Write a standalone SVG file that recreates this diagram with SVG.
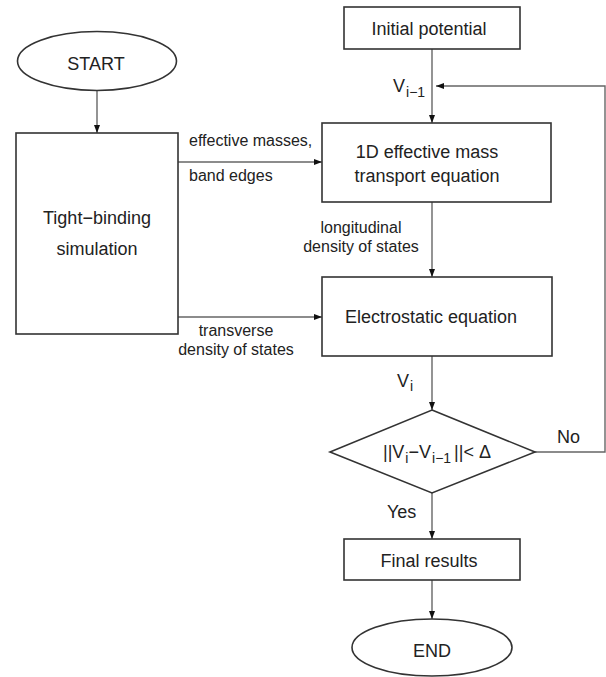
<svg xmlns="http://www.w3.org/2000/svg" width="606" height="677" viewBox="0 0 606 677">
<style>
.box{fill:#fff;stroke:#333;stroke-width:1.6}
.ln{fill:none;stroke:#666;stroke-width:1.4}
.t{font-family:"Liberation Sans",Arial,sans-serif;fill:#222;font-size:18px}
.s{font-family:"Liberation Sans",Arial,sans-serif;fill:#222;font-size:16px}
.m{text-anchor:middle}
</style>
<defs>
<marker id="ah" markerWidth="8" markerHeight="6" refX="8" refY="3" orient="auto" markerUnits="userSpaceOnUse">
<path d="M0,0 L8,3 L0,6 Z" fill="#111"/>
</marker>
</defs>
<rect width="606" height="677" fill="#fff"/>
<g id="connectors">
<line class="ln" x1="97" y1="90" x2="97" y2="133" marker-end="url(#ah)"/>
<line class="ln" x1="432" y1="49" x2="432" y2="123" marker-end="url(#ah)"/>
<line class="ln" x1="178" y1="162" x2="322" y2="162" marker-end="url(#ah)"/>
<line class="ln" x1="432" y1="202" x2="432" y2="277" marker-end="url(#ah)"/>
<line class="ln" x1="178" y1="317" x2="322" y2="317" marker-end="url(#ah)"/>
<line class="ln" x1="432" y1="356" x2="432" y2="410" marker-end="url(#ah)"/>
<polyline class="ln" points="535,452 605,452 605,86 436,86" marker-end="url(#ah)"/>
<line class="ln" x1="432" y1="493" x2="432" y2="539" marker-end="url(#ah)"/>
<line class="ln" x1="432" y1="580" x2="432" y2="619" marker-end="url(#ah)"/>
<text class="s" x="189" y="146">effective masses,</text>
<text class="s" x="189" y="181">band edges</text>
<text class="s m" x="236" y="336">transverse</text>
<text class="s m" x="236" y="355">density of states</text>
<text class="s m" x="361" y="233">longitudinal</text>
<text class="s m" x="361" y="252">density of states</text>
<text class="t" x="393" y="92">V<tspan font-size="14" dx="1" dy="5">i−1</tspan></text>
<text class="t" x="397" y="387">V<tspan font-size="14" dx="1" dy="4">i</tspan></text>
<text class="t" x="557" y="443">No</text>
<text class="t" x="387" y="518">Yes</text>
</g>
<g id="start">
<ellipse class="box" cx="97" cy="61" rx="79.5" ry="29.5"/>
<text class="t m" x="96" y="70">START</text>
</g>
<g id="tight-binding">
<rect class="box" x="16" y="133" width="162" height="201"/>
<text class="t m" x="97" y="224">Tight−binding</text>
<text class="t m" x="97" y="255">simulation</text>
</g>
<g id="initial-potential">
<rect class="box" x="344" y="7" width="176" height="42"/>
<text class="t m" x="429" y="35">Initial potential</text>
</g>
<g id="transport">
<rect class="box" x="322" y="123" width="229" height="79"/>
<text class="t m" x="427" y="158">1D effective mass</text>
<text class="t m" x="427" y="182">transport equation</text>
</g>
<g id="electrostatic">
<rect class="box" x="322" y="277" width="230" height="79"/>
<text class="t m" x="431" y="323">Electrostatic equation</text>
</g>
<g id="decision">
<polygon class="box" points="432,410 535,452 432,493 330,452"/>
<text class="t" x="383" y="458">||V<tspan font-size="14" dx="1" dy="5">i</tspan><tspan dy="-5">−V</tspan><tspan font-size="14" dx="1" dy="5">i−1</tspan><tspan dx="3" dy="-5">||&lt; Δ</tspan></text>
</g>
<g id="final-results">
<rect class="box" x="344" y="539" width="176" height="41"/>
<text class="t m" x="429" y="567">Final results</text>
</g>
<g id="end">
<ellipse class="box" cx="432" cy="647.5" rx="80" ry="28.5"/>
<text class="t m" x="432" y="657">END</text>
</g>
</svg>
